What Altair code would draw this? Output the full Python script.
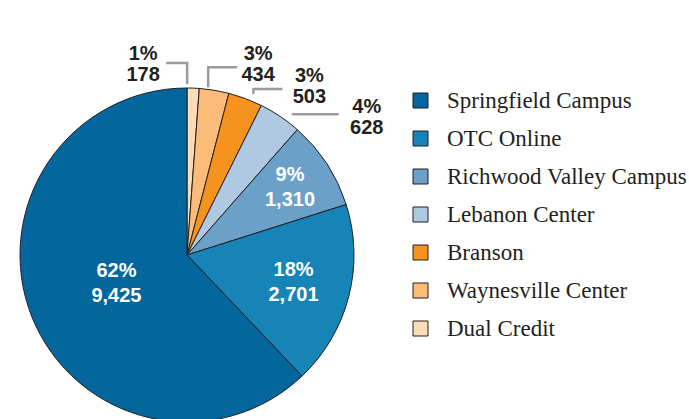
import altair as alt
import pandas as pd
import numpy as np

# ---------------- data ----------------
categories = ["Springfield Campus", "OTC Online", "Richwood Valley Campus",
              "Lebanon Center", "Branson", "Waynesville Center", "Dual Credit"]
counts = [9425, 2701, 1310, 628, 503, 434, 178]
percents = [62, 18, 9, 4, 3, 3, 1]
colors = ["#03669C", "#1784B7", "#6BA0C8", "#B0C9E3", "#F6921E", "#FBBC79", "#FDDDB7"]
# slices are drawn clockwise from 12 o'clock in this order
clockwise_order = ["Dual Credit", "Waynesville Center", "Branson", "Lebanon Center",
                   "Richwood Valley Campus", "OTC Online", "Springfield Campus"]

# ---------------- layout ----------------
W, H = 374, 330          # plot area (pie centred in it)
PAD_TOP = 90
R = 167                  # pie radius (px)
inside_label_radius = {"Springfield Campus": 76, "OTC Online": 110,
                       "Richwood Valley Campus": 123}
# leader line points and label offsets, relative to the slice's rim mid-point
outside_layout = {
    "Dual Credit": {"leader": [(-6, -4), (-6, -25), (-27, -25)], "label": (-50, -24)},
    "Waynesville Center": {"leader": [(-6, -3), (-6, -23), (23, -23)], "label": (44, -26)},
    "Branson": {"leader": [(8, -4.5), (8, -9.5), (37, -9.5)], "label": (64, -12)},
    "Lebanon Center": {"leader": [(11.6, -2), (58.6, -2)], "label": (86.6, 1.5)},
}
LH_IN, LH_OUT = 25, 21

# ---------------- tables ----------------
df = pd.DataFrame({"category": categories, "count": counts, "pct": percents})
df["ord"] = df["category"].map({c: i for i, c in enumerate(clockwise_order)})
df = df.sort_values("ord").reset_index(drop=True)
total = df["count"].sum()
df["cum_end"] = df["count"].cumsum()
df["mid"] = (df["cum_end"] - df["count"] / 2) / total * 2 * np.pi
df["label"] = df.apply(lambda r: f"{r['pct']}%\n{r['count']:,}", axis=1)

in_rows, out_rows, lead_rows = [], [], []
for _, r in df.iterrows():
    s, c = np.sin(r["mid"]), -np.cos(r["mid"])
    cat = r["category"]
    if cat in inside_label_radius:
        rr = inside_label_radius[cat]
        in_rows.append({"x": rr * s, "y": rr * c, "text": r["label"]})
    else:
        ax, ay = R * s, R * c
        lay = outside_layout[cat]
        out_rows.append({"x": ax + lay["label"][0], "y": ay + lay["label"][1], "text": r["label"]})
        for i, (dx, dy) in enumerate(lay["leader"]):
            lead_rows.append({"category": cat, "pt": i, "x": ax + dx, "y": ay + dy})

df_in = pd.DataFrame(in_rows)
df_out = pd.DataFrame(out_rows)
df_lead = pd.DataFrame(lead_rows)

xs = alt.Scale(domain=[-W / 2, W / 2], nice=False, zero=False)
ys = alt.Scale(domain=[-H / 2, H / 2], nice=False, zero=False, reverse=True)

arcs = alt.Chart(df).mark_arc(outerRadius=R, stroke="#231F20", strokeWidth=1).encode(
    theta=alt.Theta("count:Q", stack=True),
    order=alt.Order("ord:Q", sort="ascending"),
    color=alt.Color(
        "category:N",
        scale=alt.Scale(domain=categories, range=colors),
        sort=categories,
        legend=alt.Legend(
            title=None, orient="none", legendX=409, legendY=-1, padding=0,
            symbolType="square", symbolSize=225, symbolStrokeColor="#231F20",
            symbolStrokeWidth=1, symbolOpacity=1,
            labelFont="Liberation Serif", labelFontSize=23, labelColor="#231F20",
            labelOffset=15, rowPadding=14, labelLimit=400,
        ),
    ),
)

leaders = alt.Chart(df_lead).mark_line(color="#9B9B9B", strokeWidth=2.5).encode(
    x=alt.X("x:Q", scale=xs, axis=None),
    y=alt.Y("y:Q", scale=ys, axis=None),
    detail="category:N",
    order=alt.Order("pt:Q"),
)

text_in = alt.Chart(df_in).mark_text(
    font="Liberation Sans", fontWeight="bold", fontSize=20, color="white",
    lineBreak="\n", lineHeight=LH_IN, baseline="middle", align="center", dy=-LH_IN / 2,
).encode(x=alt.X("x:Q", scale=xs, axis=None), y=alt.Y("y:Q", scale=ys, axis=None), text="text:N")

text_out = alt.Chart(df_out).mark_text(
    font="Liberation Sans", fontWeight="bold", fontSize=20, color="#231F20",
    lineBreak="\n", lineHeight=LH_OUT, baseline="middle", align="center", dy=-LH_OUT / 2,
).encode(x=alt.X("x:Q", scale=xs, axis=None), y=alt.Y("y:Q", scale=ys, axis=None), text="text:N")

chart = alt.layer(arcs, leaders, text_in, text_out).properties(
    width=W, height=H,
    padding={"left": 0, "top": PAD_TOP, "right": 689 - W, "bottom": 0},
    autosize=alt.AutoSizeParams(type="none"),
).configure_view(stroke=None)

chart.save("out.html", embed_options={"renderer": "svg", "actions": False})
